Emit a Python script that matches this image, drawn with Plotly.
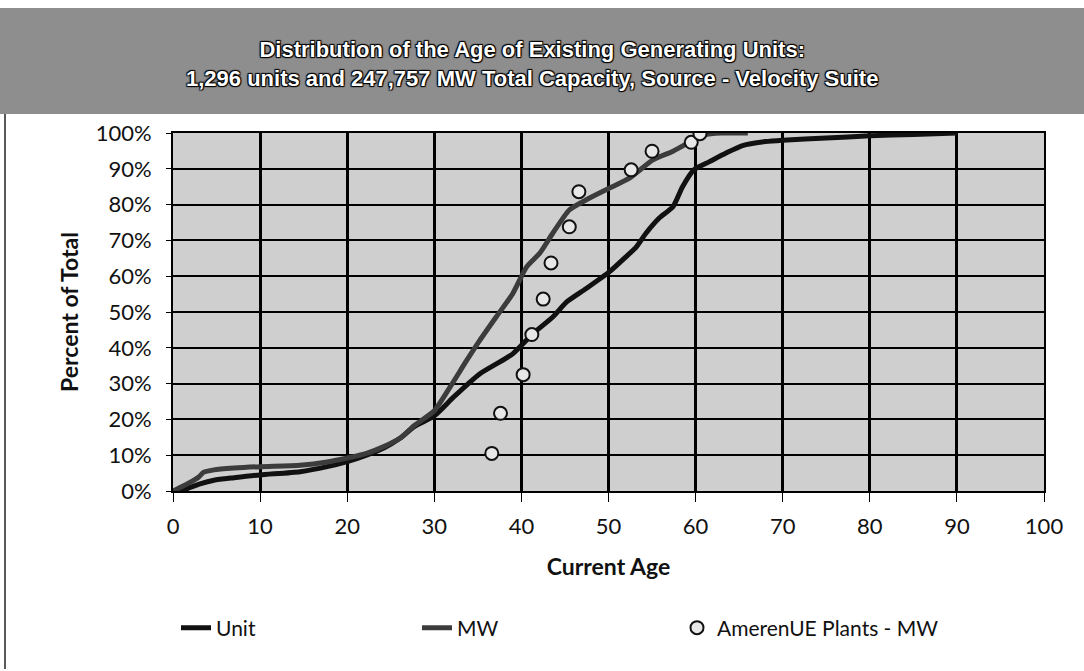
"""
Distribution of the age of existing generating units (cumulative curves).
"""

import plotly.graph_objects as go

# ── Data ──────────────────────────────────────────────────────────────────
UNIT_AGE = [0, 1.6, 3.1, 4.7, 7, 10, 14.6, 17.7, 20, 22.3, 24.2, 26.1, 27.7,
            30, 32.2, 35.2, 39.0, 41.3, 43.6, 45.2, 47.4, 50.1, 52.0, 53.2,
            54.3, 55.8, 57.4, 58.5, 59.8, 61.6, 63.5, 65.4, 68, 70, 75, 80,
            85, 90]
UNIT_PCT = [0, 0.7, 2.0, 3.0, 3.7, 4.5, 5.4, 6.8, 8.2, 10.1, 12.0, 14.8, 18.0,
            21.0, 26.2, 32.7, 38.3, 43.9, 48.6, 52.8, 56.5, 61.2, 65.4, 68.2,
            72.0, 76.2, 79.4, 85.0, 89.7, 92.0, 94.4, 96.5, 97.6, 98.0, 98.6,
            99.2, 99.6, 100]

MW_AGE = [0, 1, 2, 3, 3.5, 4.7, 7, 10, 14.6, 17.7, 20, 22.3, 24.2, 26.1, 27.7,
          28.4, 30, 31.8, 33.7, 35.2, 37.1, 39.0, 40.6, 42.1, 43.6, 45.5, 47.4,
          50.1, 52.4, 55.1, 57.4, 59.5, 61, 63, 66]
MW_PCT = [0, 1.2, 2.5, 4.0, 5.2, 5.9, 6.4, 6.8, 7.2, 8.1, 9.2, 10.6, 12.4, 14.8,
          18.3, 19.5, 22.4, 29.0, 36.4, 42.0, 48.6, 55.1, 62.6, 66.4, 72.0,
          78.5, 81.3, 84.6, 87.4, 92.5, 94.9, 97.7, 99.5, 100, 100]

AMEREN_AGE = [36.6, 37.6, 40.2, 41.2, 42.5, 43.4, 45.5, 46.6, 52.6, 55.0, 59.5, 60.5]
AMEREN_PCT = [10.5, 21.7, 32.5, 43.7, 53.6, 63.7, 73.8, 83.6, 89.7, 94.9, 97.4, 99.8]

X_TICKS = list(range(0, 101, 10))
Y_TICKS = list(range(0, 101, 10))
Y_TICK_LABELS = ["0%", "10%", "20%", "30%", "40%", "50%",
                 "60%", "70%", "80%", "90%", "100%"]

TITLE = ("Distribution of the Age of Existing Generating Units:<br>"
         "1,296 units and 247,757 MW Total Capacity, Source - Velocity Suite")

FONT = "Lato, 'Open Sans', sans-serif"
TITLE_FONT = "'Liberation Sans', Arial, sans-serif"

# plot area in pixels: x 173..1044, y 133..491
W, H = 1084, 671
L, R, T, B = 173, 40, 133, 180
PW, PH = W - L - R, H - T - B


def px_x(p):
    return (p - L) / PW


def px_y(p):
    return (H - B - p) / PH


fig = go.Figure()

fig.add_trace(go.Scatter(
    x=UNIT_AGE, y=UNIT_PCT, name="Unit", mode="lines",
    line=dict(color="#111111", width=5, shape="spline", smoothing=0.6),
    legend="legend",
))
fig.add_trace(go.Scatter(
    x=MW_AGE, y=MW_PCT, name="MW", mode="lines",
    line=dict(color="#3c3c3c", width=5, shape="spline", smoothing=0.6),
    legend="legend2",
))
fig.add_trace(go.Scatter(
    x=AMEREN_AGE, y=AMEREN_PCT, name="AmerenUE Plants - MW", mode="markers",
    marker=dict(symbol="circle", size=13, color="#e8e8e8",
                line=dict(color="#111111", width=2)),
    legend="legend3",
))

axis_common = dict(
    showgrid=True, gridcolor="#000000",
    showline=True, linecolor="#000000", linewidth=2, mirror=True,
    zeroline=False, ticks="outside", tickcolor="#000000",
    tickfont=dict(family=FONT, size=22, color="#111111"),
)

legend_common = dict(
    orientation="h", yanchor="middle", y=px_y(628),
    bgcolor="rgba(0,0,0,0)", borderwidth=0,
    font=dict(family=FONT, size=21, color="#111111"),
)

fig.update_layout(
    width=W, height=H,
    margin=dict(l=L, r=R, t=T, b=B),
    paper_bgcolor="#ffffff",
    plot_bgcolor="#cfcfcf",
    showlegend=True,
    xaxis=dict(
        **axis_common, range=[0, 100], tickvals=X_TICKS, ticklen=9, gridwidth=3,
        ticklabelstandoff=6,
        title=dict(text="<b>Current Age</b>", standoff=20,
                   font=dict(family=FONT, size=23, color="#111111")),
    ),
    yaxis=dict(
        **axis_common, range=[0, 100], tickvals=Y_TICKS, ticktext=Y_TICK_LABELS,
        ticklen=5, gridwidth=2, ticklabelstandoff=10,
        title=dict(text="<b>Percent of Total</b>", standoff=11,
                   font=dict(family=FONT, size=23, color="#111111")),
    ),
    legend=dict(**legend_common, x=px_x(176)),
    legend2=dict(**legend_common, x=px_x(417)),
    legend3=dict(**legend_common, x=px_x(677)),
)

# ── Title banner ──────────────────────────────────────────────────────────
fig.add_shape(
    type="rect", xref="paper", yref="paper",
    x0=px_x(0), x1=px_x(W), y0=px_y(114), y1=px_y(8),
    fillcolor="#8e8e8e", line=dict(width=0), layer="below",
)
# outer frame, left edge
fig.add_shape(
    type="line", xref="paper", yref="paper",
    x0=px_x(5), x1=px_x(5), y0=px_y(114), y1=px_y(669),
    line=dict(color="#222222", width=1.5),
)
fig.add_annotation(
    text=f"<b>{TITLE}</b>", xref="paper", yref="paper",
    x=px_x(532), y=px_y(64), xanchor="center", yanchor="middle",
    showarrow=False, align="center",
    font=dict(family=TITLE_FONT, size=22, color="#ffffff",
              shadow="1px 1px 1px #000, -1px -1px 1px #000, 1px -1px 1px #000, -1px 1px 1px #000"),
)

fig.write_html("out.html", config={"displayModeBar": False},
               post_script="document.body.style.margin = '0';")
